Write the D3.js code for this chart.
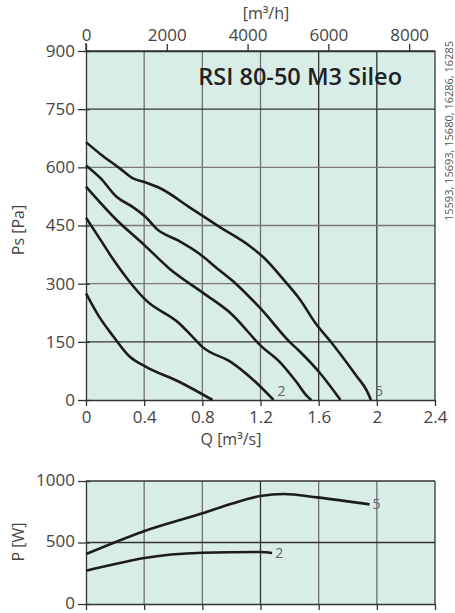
<!DOCTYPE html>
<html><head><meta charset="utf-8">
<script src="https://cdn.jsdelivr.net/npm/d3@7"></script>
<style>body{margin:0;background:#fff}svg{display:block;font-family:"Open Sans",sans-serif}</style>
</head><body><svg id="c" width="455" height="613"></svg>
<script>
// ---------- data ----------
const qTicks = [0, 0.4, 0.8, 1.2, 1.6, 2, 2.4];
const psTicks = [0, 150, 300, 450, 600, 750, 900];
const flowTicks = [0, 2000, 4000, 6000, 8000];
const powerTicks = [0, 500, 1000];
const title = "RSI 80-50 M3 Sileo";
const codeText = "15593, 15693, 15680, 16286, 16285";

// pressure curves [Q m3/s, Ps Pa]
const psCurve5 = [[0,665],[0.1,634],[0.23,598],[0.32,572],[0.41,561],[0.51,546],[0.72,495],[0.92,446],[1.13,396],[1.22,368],[1.36,310],[1.47,260],[1.58,197],[1.69,147],[1.86,62],[1.93,25],[1.96,0]];
const psCurve4 = [[0,605],[0.1,572],[0.21,524],[0.32,498],[0.41,472],[0.49,440],[0.63,412],[0.78,377],[0.9,340],[1.03,300],[1.2,236],[1.4,150],[1.47,125],[1.61,69],[1.75,0]];
const psCurve3 = [[0,550],[0.2,468],[0.4,400],[0.57,340],[0.81,275],[1.0,222],[1.21,137],[1.33,99],[1.45,45],[1.52,10],[1.55,0]];
const psCurve2 = [[0,470],[0.1,413],[0.19,361],[0.3,305],[0.41,258],[0.64,198],[0.72,168],[0.8,137],[1.0,97],[1.17,45],[1.29,0]];
const psCurve1 = [[0,275],[0.09,215],[0.19,163],[0.3,112],[0.41,86],[0.64,47],[0.87,0]];
const psCurves = [psCurve5, psCurve4, psCurve3, psCurve2, psCurve1];
const psLabels = [{text:"5", curve:0}, {text:"2", curve:3}];

// power curves [Q m3/s, P W]
const pCurve5 = [[0,406],[0.39,588],[0.8,737],[1.0,815],[1.2,878],[1.36,894],[1.59,867],[1.95,810]];
const pCurve2 = [[0,271],[0.2,325],[0.39,372],[0.8,417],[1.2,423],[1.28,415]];
const pCurves = [pCurve5, pCurve2];
const pLabels = ["5", "2"];

// ---------- drawing ----------
const svg = d3.select("#c");
const bg = "#d9ede8", ink = "#1c1c1c", txt = "#444";
const L = 86, R = 435;
const x = d3.scaleLinear().domain([0, 2.4]).range([L, R]);
const xFlow = d3.scaleLinear().domain([0, 2.4 * 3600]).range([L, R]);
const y = d3.scaleLinear().domain([0, 900]).range([400, 51]);
const yP = d3.scaleLinear().domain([0, 1000]).range([604, 481]);

function panel(ys, gridY, darkX, darkY) {
  const [b, t] = ys.range();
  svg.append("rect").attr("x", L).attr("y", t).attr("width", R - L).attr("height", b - t).attr("fill", bg);
  qTicks.slice(1, -1).forEach(q => {
    svg.append("line").attr("x1", x(q)).attr("x2", x(q)).attr("y1", t).attr("y2", b)
      .attr("stroke", darkX.includes(q) ? "#333" : "#707070").attr("stroke-width", 1.3);
  });
  gridY.forEach(v => {
    svg.append("line").attr("x1", L).attr("x2", R).attr("y1", ys(v)).attr("y2", ys(v))
      .attr("stroke", darkY.includes(v) ? "#333" : "#7a7a7a").attr("stroke-width", 1.3);
  });
  svg.append("line").attr("x1", R).attr("x2", R).attr("y1", t).attr("y2", b).attr("stroke", "#333").attr("stroke-width", 1.3);
  svg.append("line").attr("x1", L).attr("x2", R).attr("y1", t).attr("y2", t).attr("stroke", "#333").attr("stroke-width", 1.3);
}

panel(y, [150, 300, 450, 600, 750], [1.6, 2], [150, 750]);
panel(yP, [500], [1.2], [500]);

function styleAxis(g, fs) {
  g.selectAll("path.domain").attr("stroke", "#333").attr("stroke-width", 1.3);
  g.selectAll(".tick line").attr("stroke", "#333").attr("stroke-width", 1.3);
  g.selectAll(".tick text").attr("fill", txt).attr("font-size", fs).attr("font-family", "Open Sans");
}

// top chart axes
const gl = svg.append("g").attr("transform", `translate(${L},0)`)
  .call(d3.axisLeft(y).tickValues(psTicks).tickSize(8).tickSizeOuter(0).tickPadding(3));
styleAxis(gl, 17);
gl.selectAll(".tick line").attr("x1", 4);
svg.append("line").attr("x1", L).attr("x2", L).attr("y1", 43).attr("y2", 51).attr("stroke", "#333").attr("stroke-width", 1.3);

const gb = svg.append("g").attr("transform", `translate(0,400)`)
  .call(d3.axisBottom(x).tickValues(qTicks).tickSize(6).tickSizeOuter(0).tickPadding(5)
    .tickFormat(d => String(+d.toFixed(1))));
styleAxis(gb, 17);

const gt = svg.append("g").attr("transform", `translate(0,51)`)
  .call(d3.axisTop(xFlow).tickValues(flowTicks).tickSize(7).tickSizeOuter(0).tickPadding(3)
    .tickFormat(d3.format("d")));
styleAxis(gt, 17);

// bottom chart axes
const gl2 = svg.append("g").attr("transform", `translate(${L},0)`)
  .call(d3.axisLeft(yP).tickValues(powerTicks).tickSize(8).tickSizeOuter(0).tickPadding(3)
    .tickFormat(d3.format("d")));
styleAxis(gl2, 17);
gl2.selectAll(".tick line").attr("x1", 4);
gl2.selectAll(".tick text").attr("dy", "0.24em");
const gb2 = svg.append("g").attr("transform", `translate(0,604)`)
  .call(d3.axisBottom(x).tickValues(qTicks).tickSize(6).tickSizeOuter(0).tickFormat(""));
styleAxis(gb2, 17);

// curves
const line = d3.line().x(d => x(d[0])).y(d => y(d[1])).curve(d3.curveMonotoneX);
const lineP = d3.line().x(d => x(d[0])).y(d => yP(d[1])).curve(d3.curveMonotoneX);
psCurves.forEach(c => svg.append("path").attr("d", line(c)).attr("fill", "none")
  .attr("stroke", ink).attr("stroke-width", 2.6).attr("stroke-linejoin", "round"));
pCurves.forEach(c => svg.append("path").attr("d", lineP(c)).attr("fill", "none")
  .attr("stroke", ink).attr("stroke-width", 2.6).attr("stroke-linejoin", "round"));

psLabels.forEach(l => {
  const c = psCurves[l.curve], e = c[c.length - 1];
  svg.append("text").attr("x", x(e[0]) + 4).attr("y", y(e[1]) - 4).text(l.text)
    .attr("font-size", 14).attr("fill", "#666");
});
pCurves.forEach((c, i) => {
  const e = c[c.length - 1];
  svg.append("text").attr("x", x(e[0]) + 3).attr("y", yP(e[1]) + 5).text(pLabels[i])
    .attr("font-size", 14).attr("fill", "#666");
});

// texts
svg.append("text").attr("x", 402).attr("y", 85).attr("text-anchor", "end")
  .attr("font-size", 23.5).attr("font-weight", 600).attr("fill", "#222").text(title);
svg.append("text").attr("x", 266).attr("y", 19).attr("text-anchor", "middle")
  .attr("font-size", 16).attr("fill", txt).text("[m³/h]");
svg.append("text").attr("x", 231).attr("y", 445).attr("text-anchor", "middle")
  .attr("font-size", 16).attr("fill", txt).text("Q [m³/s]");
svg.append("text").attr("transform", "translate(24,230) rotate(-90)").attr("text-anchor", "middle")
  .attr("font-size", 16).attr("fill", txt).text("Ps [Pa]");
svg.append("text").attr("transform", "translate(24,542) rotate(-90)").attr("text-anchor", "middle")
  .attr("font-size", 16).attr("fill", txt).text("P [W]");
svg.append("text").attr("transform", "translate(453,131) rotate(-90)").attr("text-anchor", "middle")
  .attr("font-size", 11).attr("fill", "#555").text(codeText);
</script></body></html>
